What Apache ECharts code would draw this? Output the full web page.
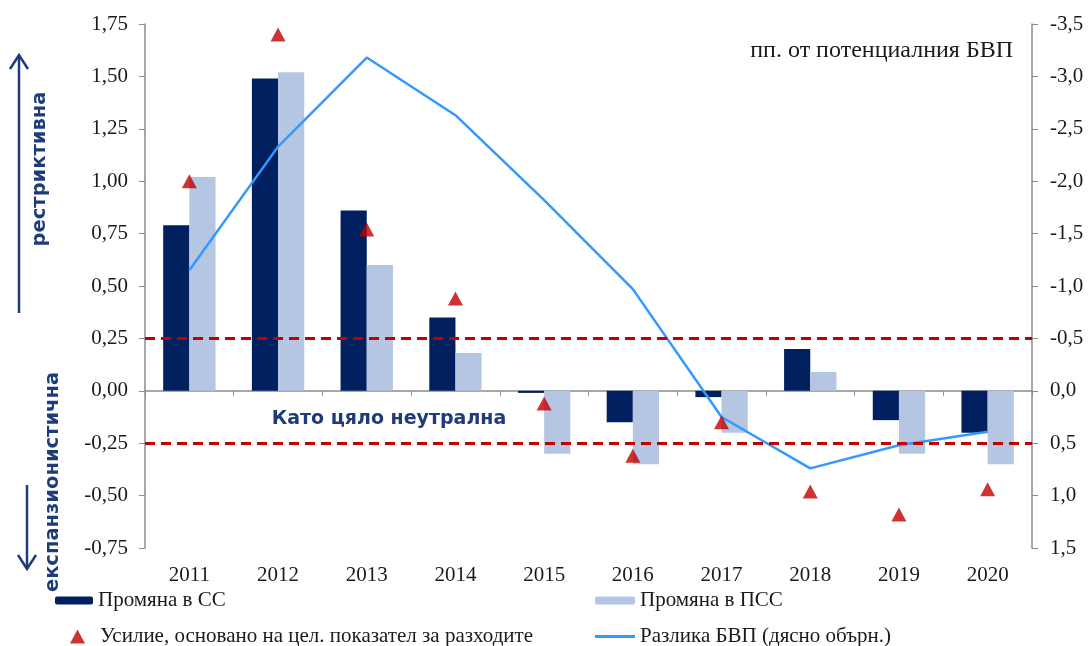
<!DOCTYPE html>
<html>
<head>
<meta charset="utf-8">
<script src="https://cdn.jsdelivr.net/npm/echarts@6/dist/echarts.min.js"></script>
<style>
html,body{margin:0;padding:0;background:#fff;}
#chart{width:1088px;height:646px;}
</style>
</head>
<body>
<div id="chart"></div>
<script>
const categories = ['2011','2012','2013','2014','2015','2016','2017','2018','2019','2020'];
const changeSS  = [0.79, 1.49, 0.86, 0.35, -0.01, -0.15, -0.03, 0.20, -0.14, -0.20];
const changePSS = [1.02, 1.52, 0.60, 0.18, -0.30, -0.35, -0.20, 0.09, -0.30, -0.35];
const effort    = [1.00, 1.70, 0.77, 0.44, -0.06, -0.31, -0.15, -0.48, -0.59, -0.47];
const gdpGap    = [-1.15, -2.33, -3.18, -2.63, -1.82, -0.97, 0.25, 0.74, 0.52, 0.39];
const thresholds = [0.25, -0.25];
const names = ['Промяна в СС', 'Промяна в ПСС', 'Усилие, основано на цел. показател за разходите', 'Разлика БВП (дясно обърн.)'];
const unitNote = 'пп. от потенциалния БВП';
const neutralNote = 'Като цяло неутрална';
const upNote = 'рестриктивна';
const downNote = 'експанзионистична';

const serif = '"Liberation Serif", "Times New Roman", serif';
const sans = '"DejaVu Sans", Verdana, sans-serif';
const axisColor = '#8c8c8c';
const navyText = '#1f3c7a';

const chart = echarts.init(document.getElementById('chart'), null, {renderer: 'canvas'});
const fmt = (v, d) => (Math.round(v * 100) / 100).toFixed(d).replace('.', ',');

const legendText = {fontFamily: serif, fontSize: 21, color: '#1a1a1a'};

chart.setOption({
  animation: false,
  grid: {left: 145, right: 56, top: 24, bottom: 98, containLabel: false},
  xAxis: [
    {
      type: 'category', data: categories, position: 'bottom',
      axisLine: {show: true, onZero: true, onZeroAxisIndex: 0, lineStyle: {color: axisColor, width: 1.5}},
      axisTick: {show: true, length: 5, lineStyle: {color: axisColor}},
      axisLabel: {show: false}
    },
    {
      type: 'category', data: categories, position: 'bottom',
      axisLine: {show: false, onZero: false},
      axisTick: {show: false},
      axisLabel: {show: true, margin: 17, fontFamily: serif, fontSize: 21, color: '#1a1a1a'}
    }
  ],
  yAxis: [
    {
      type: 'value', min: -0.75, max: 1.75, interval: 0.25,
      axisLine: {show: true, lineStyle: {color: axisColor, width: 1.5}},
      axisTick: {show: true, length: 6, lineStyle: {color: axisColor}},
      splitLine: {show: false},
      axisLabel: {margin: 17, fontFamily: serif, fontSize: 21, color: '#1a1a1a', formatter: v => fmt(v, 2)}
    },
    {
      type: 'value', min: -3.5, max: 1.5, interval: 0.5, inverse: true, position: 'right',
      axisLine: {show: true, lineStyle: {color: axisColor, width: 1.5}},
      axisTick: {show: true, length: 6, lineStyle: {color: axisColor}},
      splitLine: {show: false},
      axisLabel: {margin: 18, fontFamily: serif, fontSize: 21, color: '#1a1a1a', formatter: v => fmt(v, 1)}
    }
  ],
  legend: [
    {data: [names[0]], left: 55, top: 590, padding: 0, itemWidth: 38, itemHeight: 8, textStyle: legendText},
    {data: [names[1]], left: 595, top: 590, padding: 0, itemWidth: 40, itemHeight: 8, textStyle: legendText},
    {data: [{name: names[2], icon: 'triangle'}], left: 70, top: 626, padding: 0, itemWidth: 15, itemHeight: 14,
     textStyle: Object.assign({}, legendText, {padding: [0, 0, 0, 10]})},
    {data: [{name: names[3], icon: 'rect'}], left: 595, top: 626, padding: 0, itemWidth: 40, itemHeight: 3, textStyle: legendText}
  ],
  series: [
    {
      name: names[0], type: 'bar', data: changeSS, xAxisIndex: 0, yAxisIndex: 0,
      barGap: '0%', barCategoryGap: '41%',
      itemStyle: {color: '#002060'},
      markLine: {
        silent: true, symbol: 'none', label: {show: false},
        lineStyle: {color: '#c00000', width: 3, type: [10, 6]},
        data: thresholds.map(t => ({yAxis: t}))
      },
      z: 2
    },
    {
      name: names[1], type: 'bar', data: changePSS, xAxisIndex: 0, yAxisIndex: 0,
      itemStyle: {color: '#b4c6e2'},
      z: 2
    },
    {
      name: names[3], type: 'line', data: gdpGap, xAxisIndex: 0, yAxisIndex: 1,
      symbol: 'none', showSymbol: false,
      lineStyle: {color: '#3399ff', width: 2.5},
      itemStyle: {color: '#3399ff'},
      z: 4
    },
    {
      name: names[2], type: 'scatter', data: effort, xAxisIndex: 0, yAxisIndex: 0,
      symbol: 'triangle', symbolSize: [15, 14],
      itemStyle: {color: '#c00000'},
      z: 5
    }
  ],
  graphic: [
    {type: 'text', x: 1013, y: 51, style: {text: unitNote, font: '24px ' + serif, fill: '#1a1a1a', textAlign: 'right', textVerticalAlign: 'middle'}},
    {type: 'text', x: 389, y: 419, style: {text: neutralNote, font: 'bold 19px ' + sans, fill: navyText, textAlign: 'center', textVerticalAlign: 'middle'}},
    {type: 'text', x: 40, y: 169, rotation: Math.PI / 2, style: {text: upNote, font: 'bold 19.5px ' + sans, fill: navyText, textAlign: 'center', textVerticalAlign: 'middle'}},
    {type: 'text', x: 53, y: 482, rotation: Math.PI / 2, style: {text: downNote, font: 'bold 19.5px ' + sans, fill: navyText, textAlign: 'center', textVerticalAlign: 'middle'}},
    {type: 'line', shape: {x1: 19, y1: 55, x2: 19, y2: 313}, style: {stroke: navyText, lineWidth: 2.5}},
    {type: 'polyline', shape: {points: [[10, 69], [19, 55], [28, 69]]}, style: {stroke: navyText, lineWidth: 2.5, fill: null}},
    {type: 'line', shape: {x1: 27, y1: 485, x2: 27, y2: 569}, style: {stroke: navyText, lineWidth: 2.5}},
    {type: 'polyline', shape: {points: [[18, 555], [27, 569], [36, 555]]}, style: {stroke: navyText, lineWidth: 2.5, fill: null}}
  ]
});
</script>
</body>
</html>
